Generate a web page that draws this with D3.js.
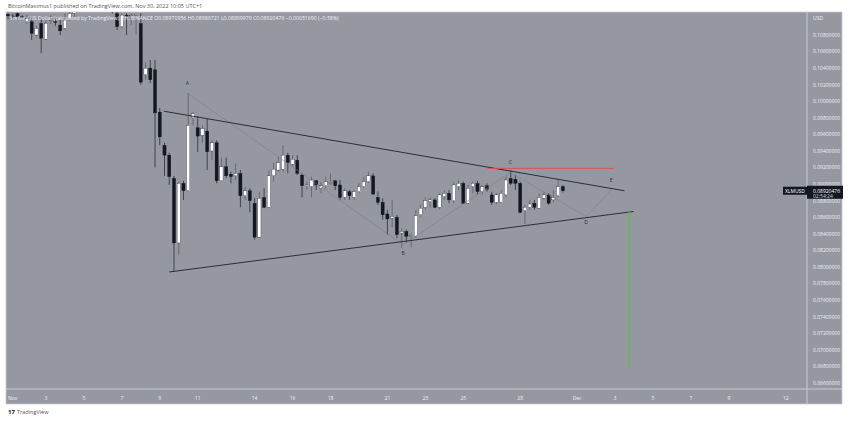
<!DOCTYPE html>
<html>
<head>
<meta charset="utf-8">
<script src="https://cdn.jsdelivr.net/npm/d3@7"></script>
<style>
  body { margin: 0; background: #fff; font-family: "Open Sans", "DejaVu Sans", sans-serif; }
</style>
</head>
<body>
<svg id="chart" width="850" height="421"></svg>
<script>
// XLM/USD 6h candles, Nov 1 2022 00:00 UTC onwards
var opens = [.1105,.1103,.1106,.1102,.1096,.1096,.1080,.1094,.1075,.1097,.1096,.1092,.1088,.1100,
  .1106,.1114,.1120,.1116,.1121,.1118,.1122,.1117,.1113,.1106,.1090,.1104,.1103,.1104,
  .1094,.1032,.1040,.1038,.0987,.0947,.0935,.0907,.0829,.0901,.0892,.0980,.0968,.0959,.0964,.0940,
  .0950,.0904,.0921,.0912,.0910,.0913,.0886,.0892,.0877,.0836,.0884,.0872,.0910,.0917,.0918,.0935,
  .0924,.0929,.0911,.0898,.0897,.0904,.0895,.0898,.0901,.0904,.0899,.0884,.0891,.0884,.0891,.0897,
  .0903,.0910,.0884,.0878,.0864,.0859,.0860,.0841,.0843,.0838,.0837,.0863,.0872,.0879,.0881,.0872,
  .0885,.0889,.0880,.0897,.0901,.0877,.0897,.0901,.0891,.0898,.0887,.0878,.0878,.0887,.0907,.0906,
  .0901,.0868,.0872,.0877,.0871,.0883,.0887,.0881,.0886,.08970956];
var highs = [.1107,.1106,.1107,.1104,.1104,.1100,.1091,.1100,.1098,.1104,.1100,.1098,.1106,.1110,
  .1118,.1125,.1128,.1124,.1130,.1126,.1128,.1124,.1120,.1108,.1106,.1106,.1106,.1106,
  .1106,.1047,.1050,.1050,.0992,.0950,.0938,.0910,.0903,.0904,.1010,.0987,.0982,.0971,.0979,.0953,
  .0953,.0932,.0932,.0915,.0925,.0917,.0897,.0895,.0883,.0891,.0895,.0917,.0926,.0933,.0947,.0938,
  .0935,.0935,.0913,.0903,.0909,.0905,.0903,.0909,.0913,.0905,.0905,.0895,.0893,.0893,.0901,.0909,
  .0915,.0913,.0891,.0883,.0869,.0881,.0863,.0847,.0845,.0841,.0869,.0875,.0884,.0884,.0883,.0889,
  .0893,.0893,.0903,.0905,.0903,.0899,.0903,.0904,.0899,.0901,.0891,.0889,.0893,.0909,.0917,.0911,
  .0903,.0875,.0881,.0881,.0889,.0891,.0889,.0893,.0906,.08986721];
var lows = [.1099,.1098,.1098,.1098,.1093,.1074,.1078,.1058,.1074,.1093,.1091,.1080,.1086,.1097,
  .1102,.1110,.1112,.1110,.1115,.1112,.1114,.1110,.1106,.1086,.1088,.1080,.1092,.1080,
  .1020,.1026,.1022,.0920,.0947,.0910,.0899,.0794,.0814,.0881,.0891,.0971,.0939,.0950,.0917,.0929,
  .0901,.0903,.0907,.0901,.0905,.0872,.0881,.0866,.0833,.0835,.0871,.0871,.0903,.0915,.0915,.0913,
  .0921,.0911,.0884,.0893,.0884,.0893,.0889,.0895,.0899,.0893,.0881,.0881,.0881,.0881,.0889,.0895,
  .0901,.0887,.0875,.0857,.0839,.0848,.0835,.0823,.0829,.0824,.0835,.0860,.0869,.0872,.0871,.0869,
  .0881,.0877,.0877,.0893,.0876,.0876,.0889,.0887,.0887,.0891,.0875,.0876,.0877,.0884,.0899,.0893,
  .0865,.0852,.0869,.0869,.0870,.0881,.0875,.0878,.0884,.08899979];
var closes = [.1103,.1102,.1102,.1101,.1100,.1082,.1088,.1076,.1094,.1098,.1095,.1085,.1098,.1106,
  .1114,.1120,.1116,.1121,.1118,.1122,.1117,.1113,.1110,.1090,.1104,.1103,.1104,.1105,
  .1023,.1040,.1026,.0986,.0957,.0935,.0909,.0829,.0901,.0892,.0971,.0985,.0958,.0967,.0939,.0950,
  .0904,.0921,.0910,.0909,.0913,.0886,.0892,.0880,.0836,.0883,.0872,.0910,.0918,.0926,.0935,.0926,
  .0930,.0913,.0898,.0899,.0905,.0899,.0898,.0903,.0902,.0898,.0884,.0892,.0886,.0891,.0897,.0903,
  .0910,.0888,.0878,.0863,.0858,.0861,.0839,.0843,.0837,.0838,.0862,.0871,.0880,.0881,.0872,.0887,
  .0889,.0881,.0899,.0901,.0877,.0895,.0901,.0891,.0897,.0894,.0878,.0887,.0889,.0905,.0901,.0901,
  .0866,.0872,.0876,.0872,.0884,.0887,.0877,.0884,.0897,.08920476];

var priceTicks = [0.108,0.106,0.104,0.102,0.100,0.098,0.096,0.094,0.092,0.090,0.088,0.086,0.084,0.082,
  0.080,0.078,0.076,0.074,0.072,0.070,0.068,0.066];
var timeTicks = [[1,"Nov"],[3,"3"],[5,"5"],[7,"7"],[9,"9"],[11,"11"],[14,"14"],[16,"16"],[18,"18"],
  [21,"21"],[23,"23"],[25,"25"],[28,"28"],[31,"Dec"],[33,"3"],[35,"5"],[37,"7"],[39,"9"],[42,"12"]];

// drawings in [candle index, price]
var upperLine = [[32.9,0.0988],[130,0.0892]];
var lowerLine = [[34,0.0794],[131.9,0.0867]];
var redLine = [[101.1,0.0919],[127.8,0.0919]];
var greenLine = [[131,0.0867],[131,0.0680]];
var wavePath = [[37.8,0.1010],[83.3,0.0827],[105.9,0.0914],[121.9,0.0861],[127.2,0.0893]];
var waveLabels = ["A","B","C","D","E"];
var waveLabelDy = [-8,10,-9,8,-8];

var svg = d3.select("#chart");
var L = 8, R = 807, T = 12, B = 389;
var bg = "#9598a1";

var t0 = Date.UTC(2022,10,1);
var day = 864e5;
var x = d3.scaleTime().domain([t0, t0 + 39*day]).range([8, 8 + 39*18.97]);
var xi = function(i){ return x(t0 + i*day/4); };
var y = d3.scaleLinear().domain([0.066, 0.108]).range([383, 35]);

svg.append("text").attr("x", 8).attr("y", 8).attr("font-size", 5.5).attr("fill", "#555")
  .text("BitcoinMaximus1 published on TradingView.com, Nov 30, 2022 10:05 UTC+1");

svg.append("rect").attr("x", L - 2).attr("y", T).attr("width", 850 - 2*(L - 2) - 2).attr("height", 404 - T)
  .attr("fill", bg).attr("stroke", "#c8cad0").attr("stroke-width", 0.8);
svg.append("line").attr("x1", R).attr("x2", R).attr("y1", T).attr("y2", 404).attr("stroke", "#c8cad0");
svg.append("line").attr("x1", L - 2).attr("x2", 842).attr("y1", B).attr("y2", B).attr("stroke", "#c8cad0");

svg.append("clipPath").attr("id", "clip").append("rect")
  .attr("x", L - 2).attr("y", T).attr("width", R - L + 2).attr("height", B - T);
var plot = svg.append("g").attr("clip-path", "url(#clip)");

var idx = d3.range(opens.length);
plot.selectAll("line.wick").data(idx).enter().append("line")
  .attr("x1", function(i){ return xi(i); }).attr("x2", function(i){ return xi(i); })
  .attr("y1", function(i){ return y(highs[i]); }).attr("y2", function(i){ return y(lows[i]); })
  .attr("stroke", function(i){ return closes[i] >= opens[i] ? "#5d606b" : "#2a2e39"; })
  .attr("stroke-width", 0.8);
plot.selectAll("rect.body").data(idx).enter().append("rect")
  .attr("x", function(i){ return xi(i) - 1.6; }).attr("width", 3.2)
  .attr("y", function(i){ return y(Math.max(opens[i], closes[i])); })
  .attr("height", function(i){ return Math.max(0.8, Math.abs(y(opens[i]) - y(closes[i]))); })
  .attr("fill", function(i){ return closes[i] >= opens[i] ? "#ffffff" : "#131722"; })
  .attr("stroke", "#131722").attr("stroke-width", 0.3);

var line = d3.line().x(function(d){ return xi(d[0]); }).y(function(d){ return y(d[1]); });
plot.append("path").attr("d", line(wavePath)).attr("fill", "none").attr("stroke", "#7d8089").attr("stroke-width", 0.6);
plot.append("path").attr("d", line(upperLine)).attr("stroke", "#2a2e39").attr("stroke-width", 1);
plot.append("path").attr("d", line(lowerLine)).attr("stroke", "#2a2e39").attr("stroke-width", 1);
plot.append("path").attr("d", line(redLine)).attr("stroke", "#d9545a").attr("stroke-width", 1);
plot.append("path").attr("d", line(greenLine)).attr("stroke", "#66bb44").attr("stroke-width", 1.2);
plot.selectAll("text.wave").data(wavePath).enter().append("text")
  .attr("x", function(d){ return xi(d[0]); }).attr("y", function(d, i){ return y(d[1]) + waveLabelDy[i]; })
  .attr("text-anchor", "middle").attr("font-size", 5).attr("fill", "#2a2e39")
  .text(function(d, i){ return waveLabels[i]; });

svg.append("text").attr("x", 10).attr("y", 20).attr("font-size", 5.2).attr("fill", "#f0f1f4")
  .text("Stellar / US Dollar (calculated by TradingView), 6h, BINANCE  O0.08970956  H0.08986721  L0.08899979  C0.08920476  \u22120.00051690 (\u22120.58%)");

// price axis
svg.append("text").attr("x", 813).attr("y", 20).attr("font-size", 5).attr("fill", "#f0f1f4").text("USD");
svg.selectAll("text.pt").data(priceTicks).enter().append("text")
  .attr("x", 813).attr("y", function(d){ return y(d) + 1.8; }).attr("font-size", 5).attr("fill", "#f0f1f4")
  .text(function(d){ return d.toFixed(8); });
var last = closes[closes.length - 1];
svg.append("rect").attr("x", R).attr("y", y(last) - 5).attr("width", 36).attr("height", 13).attr("fill", "#131722");
svg.append("text").attr("x", 813).attr("y", y(last) + 1.8).attr("font-size", 5).attr("fill", "#fff").text(last.toFixed(8));
svg.append("text").attr("x", 813).attr("y", y(last) + 7).attr("font-size", 5).attr("fill", "#d1d4dc").text("02:54:24");
svg.append("rect").attr("x", 783).attr("y", y(last) - 4).attr("width", 24).attr("height", 8).attr("fill", "#131722");
svg.append("text").attr("x", 795).attr("y", y(last) + 1.8).attr("text-anchor", "middle").attr("font-size", 5).attr("fill", "#fff").text("XLMUSD");

// time axis
svg.selectAll("text.tt").data(timeTicks).enter().append("text")
  .attr("x", function(d){ return x(t0 + (d[0] - 1)*day); }).attr("y", 400)
  .attr("text-anchor", function(d){ return d[0] === 1 ? "start" : "middle"; })
  .attr("font-size", 5).attr("fill", "#f0f1f4").text(function(d){ return d[1]; });

svg.append("text").attr("x", 8).attr("y", 414).attr("font-size", 6).attr("font-weight", "bold").attr("fill", "#131722").text("17");
svg.append("text").attr("x", 17).attr("y", 414).attr("font-size", 5.5).attr("fill", "#555").text("TradingView");
</script>
</body>
</html>
